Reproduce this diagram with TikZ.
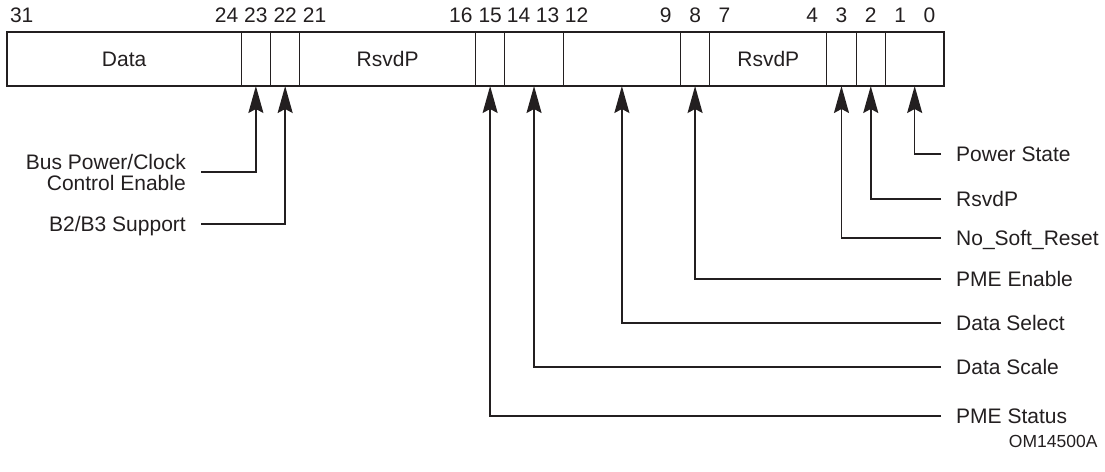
\documentclass[tikz,border=0pt]{standalone}
\usepackage{fontspec}
\setmainfont{Liberation Sans}
\usepackage{xcolor}
\usepackage{tikz}
\usetikzlibrary{arrows.meta,positioning}
\definecolor{ink}{RGB}{35,31,32}
\newcommand{\bitw}{29.28}

\begin{document}
\begin{tikzpicture}[x=1pt, y=-1pt, color=ink, font=\fontsize{21}{21}\selectfont,
  >={Stealth[length=27pt,width=15pt,inset=4pt]},
  field/.style={draw, line width=1.2pt, minimum height=54pt, inner sep=0pt, outer sep=0pt},
  bitno/.style={anchor=base, inner sep=0pt},
  lbl/.style={inner xsep=15pt, inner ysep=0pt, text height=15pt, text depth=0pt},
  line/.style={->, line width=1.6pt}]
\useasboundingbox (0,0) rectangle (1105,471);
% register fields, bit 31 on the left
\node[field, anchor=north west, minimum width={8*\bitw pt}] (data) at (7,32) {Data};
\node[field, minimum width={\bitw pt}, right=0pt of data] (bpcc) {};
\node[field, minimum width={\bitw pt}, right=0pt of bpcc] (bsupp) {};
\node[field, minimum width={6*\bitw pt}, right=0pt of bsupp] (rsvdhi) {RsvdP};
\node[field, minimum width={\bitw pt}, right=0pt of rsvdhi] (pmests) {};
\node[field, minimum width={2*\bitw pt}, right=0pt of pmests] (dscale) {};
\node[field, minimum width={4*\bitw pt}, right=0pt of dscale] (dsel) {};
\node[field, minimum width={\bitw pt}, right=0pt of dsel] (pmeen) {};
\node[field, minimum width={4*\bitw pt}, right=0pt of pmeen] (rsvdlo) {RsvdP};
\node[field, minimum width={\bitw pt}, right=0pt of rsvdlo] (nosr) {};
\node[field, minimum width={\bitw pt}, right=0pt of nosr] (rsvdtwo) {};
\node[field, minimum width={2*\bitw pt}, right=0pt of rsvdtwo] (pwrst) {};
\draw[line width=1.8pt] (data.north west) rectangle (pwrst.south east);
% bit numbers
\node[bitno] (b31) at (21.7,22) {31};
\node[bitno] (b24) at (226.6,22) {24};
\node[bitno] (b23) at (255.9,22) {23};
\node[bitno] (b22) at (285.2,22) {22};
\node[bitno] (b21) at (314.5,22) {21};
\node[bitno] (b16) at (460.9,22) {16};
\node[bitno] (b15) at (490.2,22) {15};
\node[bitno] (b14) at (518.5,22) {14};
\node[bitno] (b13) at (547.5,22) {13};
\node[bitno] (b12) at (576.5,22) {12};
\node[bitno] (b9) at (665.8,22) {9};
\node[bitno] (b8) at (695.1,22) {8};
\node[bitno] (b7) at (724.4,22) {7};
\node[bitno] (b4) at (812.2,22) {4};
\node[bitno] (b3) at (841.5,22) {3};
\node[bitno] (b2) at (870.8,22) {2};
\node[bitno] (b1) at (900.1,22) {1};
\node[bitno] (b0) at (929.4,22) {0};
% field names
\node[inner xsep=15pt, align=right, anchor=east] (bpcctxt) at (201,172) {Bus Power/Clock\\Control Enable};
\node[lbl, anchor=east] (bsupptxt) at (201,224) {B2/B3 Support};
\node[lbl, anchor=west] (pwrsttxt) at (941,154) {Power State};
\node[lbl, anchor=west] (rsvdtwotxt) at (941,199) {RsvdP};
\node[lbl, anchor=west] (nosrtxt) at (941,238) {No\_Soft\_Reset};
\node[lbl, anchor=west] (pmeentxt) at (941,279) {PME Enable};
\node[lbl, anchor=west] (dseltxt) at (941,323) {Data Select};
\node[lbl, anchor=west] (dscaletxt) at (941,367) {Data Scale};
\node[lbl, anchor=west] (pmeststxt) at (941,416) {PME Status};
\node[anchor=east, font=\fontsize{17.5}{20}\selectfont] (omnum) at (1101,441) {OM14500A};
\draw[line] (bpcctxt.east) -| (bpcc.south);
\draw[line] (bsupptxt.east) -| (bsupp.south);
\draw[line] (pwrsttxt.west) -| (pwrst.south);
\draw[line] (rsvdtwotxt.west) -| (rsvdtwo.south);
\draw[line] (nosrtxt.west) -| (nosr.south);
\draw[line] (pmeentxt.west) -| (pmeen.south);
\draw[line] (dseltxt.west) -| (dsel.south);
\draw[line] (dscaletxt.west) -| (dscale.south);
\draw[line] (pmeststxt.west) -| (pmests.south);
\end{tikzpicture}
\end{document}
